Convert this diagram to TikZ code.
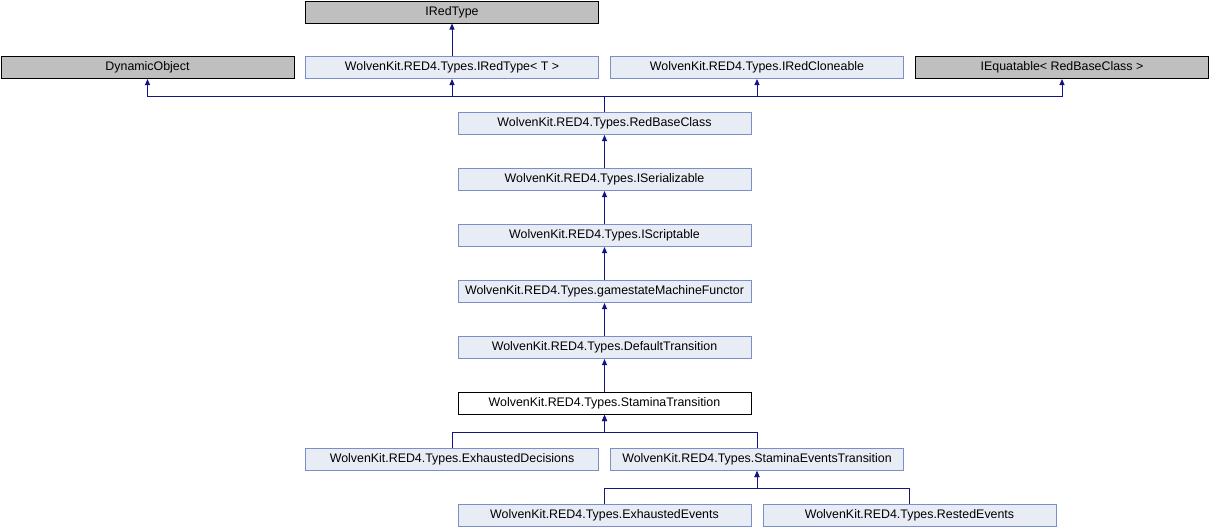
\documentclass[tikz,border=0pt]{standalone}
\usepackage{fontspec}
\setmainfont{Liberation Sans}
\usetikzlibrary{arrows.meta}
\definecolor{edgeblue}{RGB}{20,20,130}
\definecolor{classfill}{RGB}{232,236,245}
\definecolor{classline}{RGB}{122,142,200}
\definecolor{extfill}{RGB}{191,191,191}
\begin{document}
\begin{tikzpicture}[x=1pt,y=-1pt,
    classbox/.style={rectangle, draw=classline, fill=classfill, line width=1pt,
        minimum width=293pt, minimum height=22pt, inner sep=0pt,
        font=\fontsize{12.4}{14}\selectfont},
    extbox/.style={classbox, draw=black, fill=extfill},
    focusbox/.style={classbox, draw=black, fill=white},
    inh/.style={draw=edgeblue, line width=1pt, -{Triangle[length=6pt,width=5pt]}}]
    \useasboundingbox (0,0) rectangle (1210,528);
    % top parents
    \node[extbox] (iredtype) at (452,12) {IRedType};
    \node[extbox] (dynobj) at (147.5,67.5) {DynamicObject};
    \node[classbox] (iredtypet) at (452,67.5) {WolvenKit.RED4.Types.IRedType< T >};
    \node[classbox] (iredclone) at (757,67.5) {WolvenKit.RED4.Types.IRedCloneable};
    \node[extbox] (iequatable) at (1062,67.5) {IEquatable< RedBaseClass >};
    % main chain
    \node[classbox] (redbase) at (604.5,123.5) {WolvenKit.RED4.Types.RedBaseClass};
    \node[classbox] (iserial) at (604.5,179.5) {WolvenKit.RED4.Types.ISerializable};
    \node[classbox] (iscript) at (604.5,235.5) {WolvenKit.RED4.Types.IScriptable};
    \node[classbox] (functor) at (604.5,291.5) {WolvenKit.RED4.Types.gamestateMachineFunctor};
    \node[classbox] (deftrans) at (604.5,347.5) {WolvenKit.RED4.Types.DefaultTransition};
    \node[focusbox] (stamina) at (604.5,403.5) {WolvenKit.RED4.Types.StaminaTransition};
    % children
    \node[classbox] (exhdec) at (452,459.5) {WolvenKit.RED4.Types.ExhaustedDecisions};
    \node[classbox] (stamev) at (757,459.5) {WolvenKit.RED4.Types.StaminaEventsTransition};
    \node[classbox] (exhev) at (604.5,515.5) {WolvenKit.RED4.Types.ExhaustedEvents};
    \node[classbox] (restev) at (909.5,515.5) {WolvenKit.RED4.Types.RestedEvents};
    % bus points
    \coordinate (busa) at (604.5,96);
    \coordinate (busb) at (604.5,432);
    \coordinate (busc) at (757,488);
    % edges
    \draw[inh] (iredtypet) -- (iredtype);
    \draw[inh] (redbase.north) -- (busa) -| (dynobj.south);
    \draw[inh] (redbase.north) -- (busa) -| (iredtypet.south);
    \draw[inh] (redbase.north) -- (busa) -| (iredclone.south);
    \draw[inh] (redbase.north) -- (busa) -| (iequatable.south);
    \draw[inh] (iserial) -- (redbase);
    \draw[inh] (iscript) -- (iserial);
    \draw[inh] (functor) -- (iscript);
    \draw[inh] (deftrans) -- (functor);
    \draw[inh] (stamina) -- (deftrans);
    \draw[inh] (exhdec.north) |- (busb) -- (stamina.south);
    \draw[inh] (stamev.north) |- (busb) -- (stamina.south);
    \draw[inh] (exhev.north) |- (busc) -- (stamev.south);
    \draw[inh] (restev.north) |- (busc) -- (stamev.south);
\end{tikzpicture}
\end{document}
